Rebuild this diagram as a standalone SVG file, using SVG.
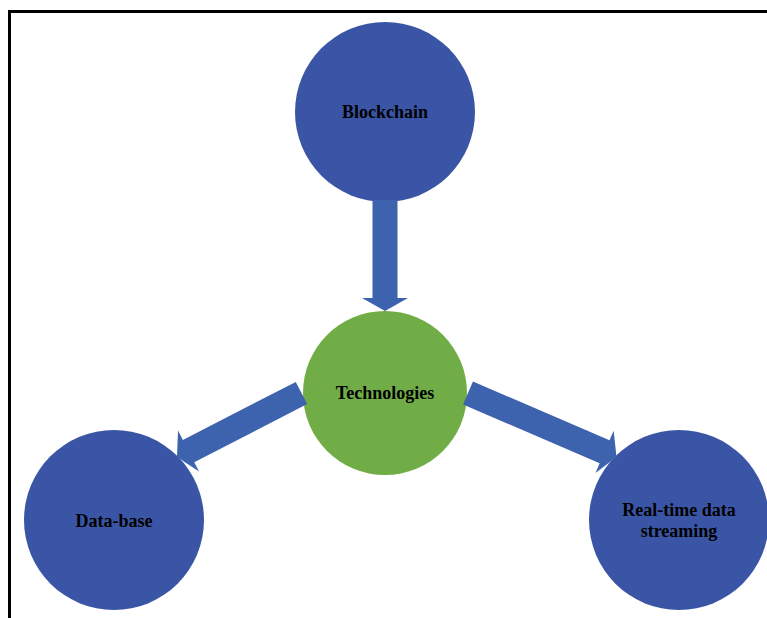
<svg xmlns="http://www.w3.org/2000/svg" width="767" height="618" viewBox="0 0 767 618">
  <style>
    .frame { fill: none; stroke: #000; stroke-width: 3; }
    .node-blue { fill: #3A55A5; }
    .node-green { fill: #70AD47; }
    .arrow { fill: #3E63AE; }
    .label { font-family: "Liberation Serif", "Times New Roman", serif; font-weight: bold; font-size: 18px; fill: #000; text-anchor: middle; }
  </style>

  <rect width="767" height="618" fill="#fff"/>
  <!-- outer frame, running off the right and bottom edges -->
  <rect class="frame" x="9.5" y="11.5" width="800" height="650"/>

  <g id="node-blockchain">
    <circle class="node-blue" cx="385" cy="112" r="90"/>
    <text class="label" x="385" y="118">Blockchain</text>
  </g>
  <g id="node-technologies">
    <circle class="node-green" cx="385" cy="393" r="82"/>
    <text class="label" x="385" y="399">Technologies</text>
  </g>
  <g id="node-database">
    <circle class="node-blue" cx="114" cy="520" r="90"/>
    <text class="label" x="114" y="527">Data-base</text>
  </g>
  <g id="node-streaming">
    <circle class="node-blue" cx="679" cy="520" r="90"/>
    <text class="label" x="679" y="516">Real-time data</text>
    <text class="label" x="679" y="537">streaming</text>
  </g>

  <!-- block arrows: shaft 25 wide, head 46 wide and 13 long -->
  <g id="connectors">
    <polygon class="arrow" transform="translate(385,200) rotate(90)"
             points="0,-12.5 98,-12.5 98,-23 111,0 98,23 98,12.5 0,12.5"/>
    <polygon class="arrow" transform="translate(301.5,393) rotate(152.8)"
             points="0,-12.5 127,-12.5 127,-23 140,0 127,23 127,12.5 0,12.5"/>
    <polygon class="arrow" transform="translate(468,393) rotate(23.3)"
             points="0,-12.5 148.7,-12.5 148.7,-23 161.7,0 148.7,23 148.7,12.5 0,12.5"/>
  </g>
</svg>
